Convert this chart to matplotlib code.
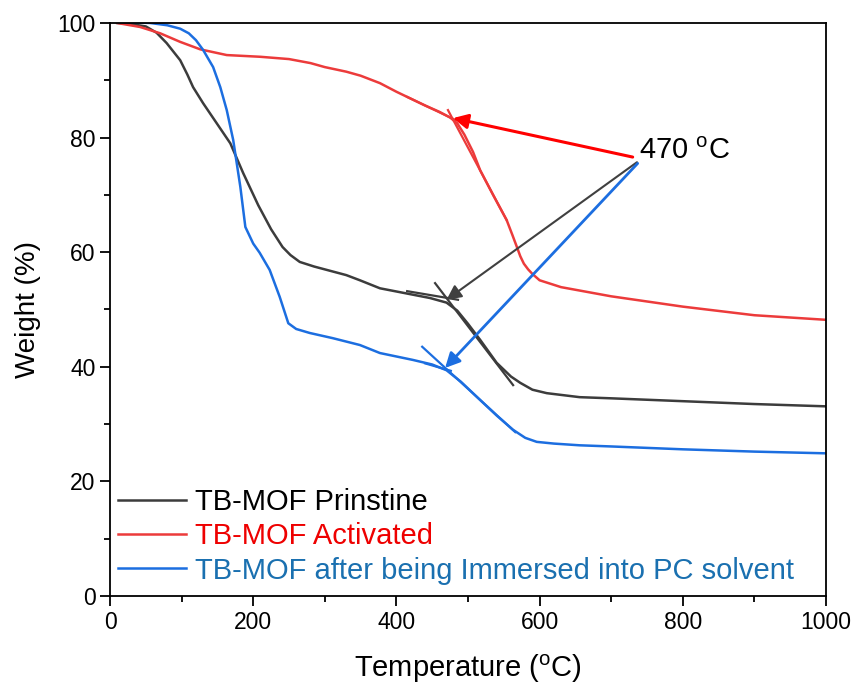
import matplotlib
matplotlib.use("Agg")
import matplotlib.pyplot as plt
from matplotlib.ticker import MultipleLocator

plt.rcParams['font.family'] = ['Liberation Sans', 'DejaVu Sans']
plt.rcParams['mathtext.fontset'] = 'custom'
plt.rcParams['mathtext.rm'] = 'Liberation Sans'

# ---- data ----
t_pristine = [10, 30, 50, 65, 79, 98, 108, 116, 130, 149, 168, 186, 207, 225, 241, 252, 265,
              285, 303, 330, 349, 377, 410, 447, 470, 485, 500, 517, 540, 560, 573, 590, 610,
              656, 700, 800, 900, 1000]
w_pristine = [100.0, 99.8, 99.4, 98.3, 96.5, 93.5, 91.0, 88.8, 86.0, 82.5, 79.0, 73.8, 68.2,
              64.0, 60.9, 59.5, 58.3, 57.5, 56.9, 56.0, 55.1, 53.7, 52.9, 52.0, 51.2, 49.8,
              47.5, 44.7, 40.7, 38.3, 37.2, 36.0, 35.4, 34.7, 34.5, 34.0, 33.5, 33.1]

t_activated = [10, 42, 70, 98, 126, 163, 210, 250, 280, 300, 330, 350, 377, 400, 415, 440,
               460, 475, 485, 495, 507, 517, 535, 554, 562, 568, 573, 578, 584, 590, 600, 630,
               700, 800, 900, 1000]
w_activated = [100.0, 99.3, 98.2, 96.7, 95.4, 94.4, 94.1, 93.7, 93.0, 92.3, 91.5, 90.8, 89.5,
               88.0, 87.1, 85.6, 84.5, 83.5, 82.5, 80.5, 77.5, 74.3, 70.0, 65.6, 63.0, 61.0,
               59.3, 58.0, 57.0, 56.2, 55.1, 53.9, 52.3, 50.5, 49.0, 48.2]

t_immersed = [10, 56, 80, 98, 110, 120, 130, 144, 154, 163, 172, 182, 189, 200, 209, 223, 237,
              249, 260, 279, 311, 349, 377, 423, 450, 470, 490, 517, 540, 563, 580, 596, 620,
              656, 700, 800, 900, 1000]
w_immersed = [100.2, 100.0, 99.6, 99.0, 98.2, 97.0, 95.3, 92.3, 88.8, 84.8, 79.6, 71.4, 64.4,
              61.5, 59.9, 56.9, 52.2, 47.6, 46.6, 45.9, 45.0, 43.8, 42.4, 41.2, 40.4, 39.4,
              37.4, 34.2, 31.5, 29.0, 27.6, 26.9, 26.6, 26.3, 26.1, 25.6, 25.2, 24.9]

labels = ['TB-MOF Prinstine', 'TB-MOF Activated', 'TB-MOF after being Immersed into PC solvent']

# onset tangent segments ((x0, x1), (y0, y1))
tan_pristine = [((415, 486), (53.2, 51.7)), ((454, 563), (54.6, 36.8))]
tan_activated = [((415, 482), (87.1, 83.1)), ((472, 554), (84.8, 65.6))]
tan_immersed = [((440, 476), (40.6, 39.3)), ((436, 566), (43.5, 28.6))]

# arrows from the "470 oC" label to the onset points
onset_T = [470, 479, 468]
onset_W = [51.7, 83.4, 39.8]
arrow_from_T = [736, 730, 737]
arrow_from_W = [75.7, 76.6, 75.5]

line_colors = ['#3c3c3c', '#ec3b3b', '#1c6ee0']
arrow_colors = ['#404040', '#ff0000', '#1c6ee0']
arrow_widths = [1.5, 2.2, 2.0]
text_colors = ['#000000', '#ee0000', '#1a70b0']

fig = plt.figure(figsize=(8.57, 6.88), dpi=100)
ax = fig.add_axes([0.1284, 0.1337, 0.8354, 0.8329])

series = [(t_pristine, w_pristine, tan_pristine),
          (t_activated, w_activated, tan_activated),
          (t_immersed, w_immersed, tan_immersed)]
handles = []
for (t, w, tans), c, lab in zip(series, line_colors, labels):
    h, = ax.plot(t, w, color=c, lw=1.8, label=lab)
    handles.append(h)
    for xs, ys in tans:
        ax.plot(xs, ys, color=c, lw=1.6)

for x0, y0, x1, y1, c, lw in zip(arrow_from_T, arrow_from_W, onset_T, onset_W,
                                 arrow_colors, arrow_widths):
    ax.annotate('', xy=(x1, y1), xytext=(x0, y0),
                arrowprops=dict(arrowstyle='-|>', color=c, lw=lw, mutation_scale=22,
                                shrinkA=0, shrinkB=0))

ax.text(739, 77.6, '470 $^{\\rm o}$C', fontsize=21, va='center', ha='left')

ax.set_xlim(0, 1000)
ax.set_ylim(0, 100)
ax.xaxis.set_major_locator(MultipleLocator(200))
ax.xaxis.set_minor_locator(MultipleLocator(100))
ax.yaxis.set_major_locator(MultipleLocator(20))
ax.yaxis.set_minor_locator(MultipleLocator(10))
ax.tick_params(which='major', direction='out', length=7, width=1.3, labelsize=16.5)
ax.tick_params(which='minor', direction='out', length=4, width=1.3)
for s in ax.spines.values():
    s.set_linewidth(1.3)

ax.set_xlabel('Temperature ($^{\\rm o}$C)', fontsize=21, labelpad=14)
ax.set_ylabel('Weight (%)', fontsize=20, labelpad=12)

leg = ax.legend(handles=handles, loc='lower left', frameon=False, fontsize=21,
                handlelength=2.35, handletextpad=0.3, labelspacing=0.22,
                borderpad=0, borderaxespad=0, bbox_to_anchor=(0.011, 0.02))
for txt, c in zip(leg.get_texts(), text_colors):
    txt.set_color(c)

fig.savefig('out.png', dpi=100)
